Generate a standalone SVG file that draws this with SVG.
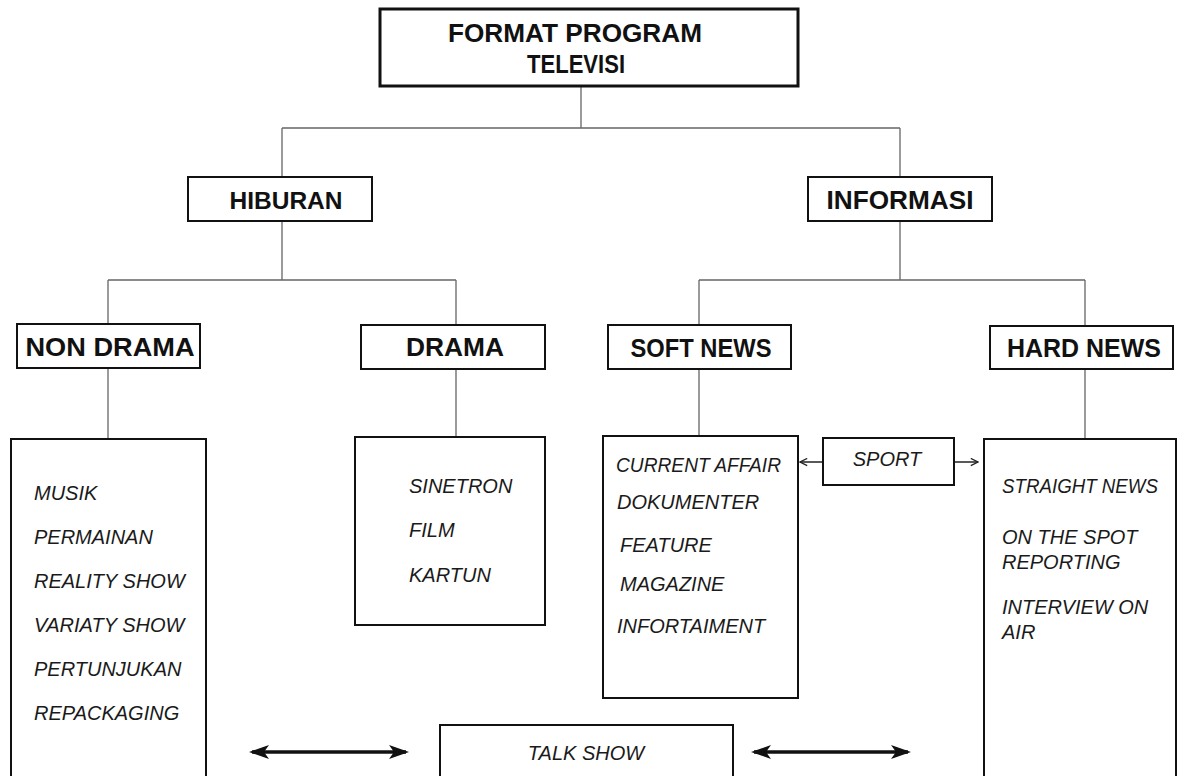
<svg xmlns="http://www.w3.org/2000/svg" width="1177" height="776" viewBox="0 0 1177 776">
<defs>
<style>
.box{fill:#fff;stroke:#111;stroke-width:2}
.top{fill:#fff;stroke:#111;stroke-width:3}
.conn{stroke:#666;stroke-width:1.3;fill:none}
.hd{font-family:"Liberation Sans",Arial,sans-serif;font-weight:bold;fill:#111;text-anchor:middle}
.it{font-family:"Liberation Sans",Arial,sans-serif;font-style:italic;font-size:20px;fill:#1a1a1a}
.thin{stroke:#222;stroke-width:1.5;fill:none}
.thick{stroke:#111;stroke-width:3.5;fill:none}
</style>
<marker id="big" viewBox="0 0 20 14" refX="17" refY="7" markerWidth="20" markerHeight="14" markerUnits="userSpaceOnUse" orient="auto-start-reverse">
<path d="M0,0 L20,7 L0,14 L5,7 Z" fill="#111"/>
</marker>
<marker id="small" viewBox="0 0 10 10" refX="9" refY="5" markerWidth="9" markerHeight="9" markerUnits="userSpaceOnUse" orient="auto-start-reverse">
<path d="M1,1 L9,5 L1,9" fill="none" stroke="#222" stroke-width="1.4"/>
</marker>
</defs>
<rect width="1177" height="776" fill="#fff"/>
<g id="connectors">
<path class="conn" d="M581,86 V128 M282,128 H900 M282,128 V177 M900,128 V177"/>
<path class="conn" d="M282,221 V280 M108,280 H456 M108,280 V324 M456,280 V325"/>
<path class="conn" d="M900,221 V280 M699,280 H1085 M699,280 V325 M1085,280 V326"/>
<path class="conn" d="M108,368 V439 M456,369 V437 M699,369 V436 M1085,369 V439"/>
<line class="thin" x1="823" y1="462" x2="800" y2="462" marker-end="url(#small)"/>
<line class="thin" x1="954" y1="462" x2="978" y2="462" marker-end="url(#small)"/>
<line class="thick" x1="252" y1="752" x2="406" y2="752" marker-start="url(#big)" marker-end="url(#big)"/>
<line class="thick" x1="754" y1="752" x2="908" y2="752" marker-start="url(#big)" marker-end="url(#big)"/>
</g>
<g id="format">
<rect class="top" x="380" y="9" width="418" height="77"/>
<text class="hd" x="575" y="42" font-size="26" textLength="254" lengthAdjust="spacingAndGlyphs">FORMAT PROGRAM</text>
<text class="hd" x="576" y="73" font-size="26" textLength="98" lengthAdjust="spacingAndGlyphs">TELEVISI</text>
</g>
<g id="hiburan">
<rect class="box" x="188" y="177" width="184" height="44"/>
<text class="hd" x="286" y="209" font-size="24" textLength="113" lengthAdjust="spacingAndGlyphs">HIBURAN</text>
</g>
<g id="informasi">
<rect class="box" x="808" y="177" width="184" height="44"/>
<text class="hd" x="900" y="209" font-size="25" textLength="147" lengthAdjust="spacingAndGlyphs">INFORMASI</text>
</g>
<g id="nondrama">
<rect class="box" x="17" y="324" width="183" height="44"/>
<text class="hd" x="110" y="356" font-size="26" textLength="169" lengthAdjust="spacingAndGlyphs">NON DRAMA</text>
</g>
<g id="drama">
<rect class="box" x="361" y="325" width="184" height="44"/>
<text class="hd" x="455" y="356" font-size="26" textLength="98" lengthAdjust="spacingAndGlyphs">DRAMA</text>
</g>
<g id="softnews">
<rect class="box" x="608" y="325" width="183" height="44"/>
<text class="hd" x="701" y="357" font-size="26" textLength="141" lengthAdjust="spacingAndGlyphs">SOFT NEWS</text>
</g>
<g id="hardnews">
<rect class="box" x="990" y="326" width="183" height="43"/>
<text class="hd" x="1084" y="357" font-size="26" textLength="154" lengthAdjust="spacingAndGlyphs">HARD NEWS</text>
</g>
<g id="nondrama-list">
<rect class="box" x="11" y="439" width="195" height="345"/>
<text class="it" x="34" y="500">MUSIK</text>
<text class="it" x="34" y="544">PERMAINAN</text>
<text class="it" x="34" y="588">REALITY SHOW</text>
<text class="it" x="34" y="632">VARIATY SHOW</text>
<text class="it" x="34" y="676">PERTUNJUKAN</text>
<text class="it" x="34" y="720">REPACKAGING</text>
</g>
<g id="drama-list">
<rect class="box" x="355" y="437" width="190" height="188"/>
<text class="it" x="409" y="493">SINETRON</text>
<text class="it" x="409" y="537">FILM</text>
<text class="it" x="409" y="582">KARTUN</text>
</g>
<g id="softnews-list">
<rect class="box" x="603" y="436" width="195" height="262"/>
<text class="it" x="616" y="472" textLength="165" lengthAdjust="spacingAndGlyphs">CURRENT AFFAIR</text>
<text class="it" x="617" y="509">DOKUMENTER</text>
<text class="it" x="620" y="552">FEATURE</text>
<text class="it" x="620" y="591">MAGAZINE</text>
<text class="it" x="617" y="633">INFORTAIMENT</text>
</g>
<g id="sport">
<rect class="box" x="823" y="438" width="131" height="47"/>
<text class="it" x="887" y="466" text-anchor="middle">SPORT</text>
</g>
<g id="hardnews-list">
<rect class="box" x="984" y="439" width="192" height="345"/>
<text class="it" x="1002" y="493" textLength="156" lengthAdjust="spacingAndGlyphs">STRAIGHT NEWS</text>
<text class="it" x="1002" y="544">ON THE SPOT</text>
<text class="it" x="1002" y="569">REPORTING</text>
<text class="it" x="1002" y="614">INTERVIEW ON</text>
<text class="it" x="1002" y="639">AIR</text>
</g>
<g id="talkshow">
<rect class="box" x="440" y="725" width="293" height="60"/>
<text class="it" x="586" y="760" text-anchor="middle">TALK SHOW</text>
</g>
</svg>
